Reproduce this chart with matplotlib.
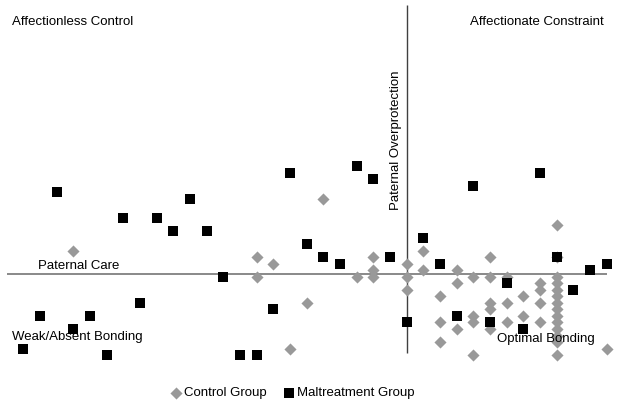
#!/usr/bin/env python3

import matplotlib
matplotlib.use("Agg")
import matplotlib.pyplot as plt

plt.rcParams['font.family'] = ['Liberation Sans', 'DejaVu Sans']

# paternal care (x) and paternal overprotection (y) scores
control_care = [4, 19, 15, 16, 15, 21, 22, 22, 22, 18, 17,
                24, 24, 24, 25, 25, 26, 26, 26, 27, 27, 27,
                28, 28, 28, 28, 29, 29, 29, 29, 29, 30, 30, 30,
                31, 31, 32, 32, 32, 32,
                33, 33, 33, 33, 33, 33, 33, 33, 33, 33, 33, 33, 33, 33,
                36]
control_prot = [16, 24, 15, 14, 12, 12, 15, 13, 12, 8, 1,
                14, 12, 10, 16, 13, 9, 5, 2, 13, 11, 4,
                12, 6, 5, 0, 15, 12, 8, 7, 4, 12, 8, 5,
                9, 6, 11, 10, 8, 5,
                20, 15, 12, 11, 10, 9, 8, 7, 6, 5, 4, 3, 2, 0,
                1]

maltreat_care = [3, 11, 7, 9, 10, 12, 8, 2, 5, 4, 1, 6,
                 17, 21, 22, 18, 19, 20, 23, 13, 16, 14, 15, 24,
                 28, 32, 25, 26, 33, 35, 36, 30, 34, 27, 29, 31]
maltreat_prot = [25, 24, 21, 21, 19, 19, 8, 6, 6, 4, 1, 0,
                 28, 29, 27, 17, 15, 14, 15, 12, 7, 0, 0, 5,
                 26, 28, 18, 14, 15, 13, 14, 11, 10, 6, 5, 4]

care_cutoff = 24
prot_cutoff = 12.5

fig = plt.figure(figsize=(6.2, 4.08), dpi=100)
ax = fig.add_axes([0, 0, 1, 1])
ax.set_xlim(-0.4, 36.8)
ax.set_ylim(-8.15, 54.6)
ax.axis('off')

ax.hlines(prot_cutoff, 0, 36, color='#808080', lw=1.3, zorder=1)
ax.vlines(care_cutoff, 0.3, 53.8, color='#404040', lw=1.0, zorder=1)

ax.scatter(control_care, control_prot, marker='D', s=38, color='#999999',
           linewidths=0, label='Control Group', zorder=2)
ax.scatter(maltreat_care, maltreat_prot, marker='s', s=60, color='black',
           linewidths=0, label='Maltreatment Group', zorder=3)

fs = 9.5
ax.text(12 / 620, 1 - 22 / 408, 'Affectionless Control', transform=ax.transAxes,
        fontsize=fs, ha='left', va='center')
ax.text(604 / 620, 1 - 22 / 408, 'Affectionate Constraint', transform=ax.transAxes,
        fontsize=fs, ha='right', va='center')
ax.text(38 / 620, 1 - 266 / 408, 'Paternal Care', transform=ax.transAxes,
        fontsize=fs, ha='left', va='center')
ax.text(12 / 620, 1 - 337 / 408, 'Weak/Absent Bonding', transform=ax.transAxes,
        fontsize=fs, ha='left', va='center')
ax.text(497 / 620, 1 - 339 / 408, 'Optimal Bonding', transform=ax.transAxes,
        fontsize=fs, ha='left', va='center')
ax.text(396 / 620, 1 - 140 / 408, 'Paternal Overprotection', transform=ax.transAxes,
        fontsize=fs, ha='center', va='center', rotation=90)

ax.legend(loc='center', bbox_to_anchor=(292 / 620, 1 - 393 / 408), ncol=2,
          frameon=False, fontsize=fs, handletextpad=0.1, columnspacing=1.2,
          handlelength=1.0, borderaxespad=0)

fig.savefig('out.png', dpi=100)
